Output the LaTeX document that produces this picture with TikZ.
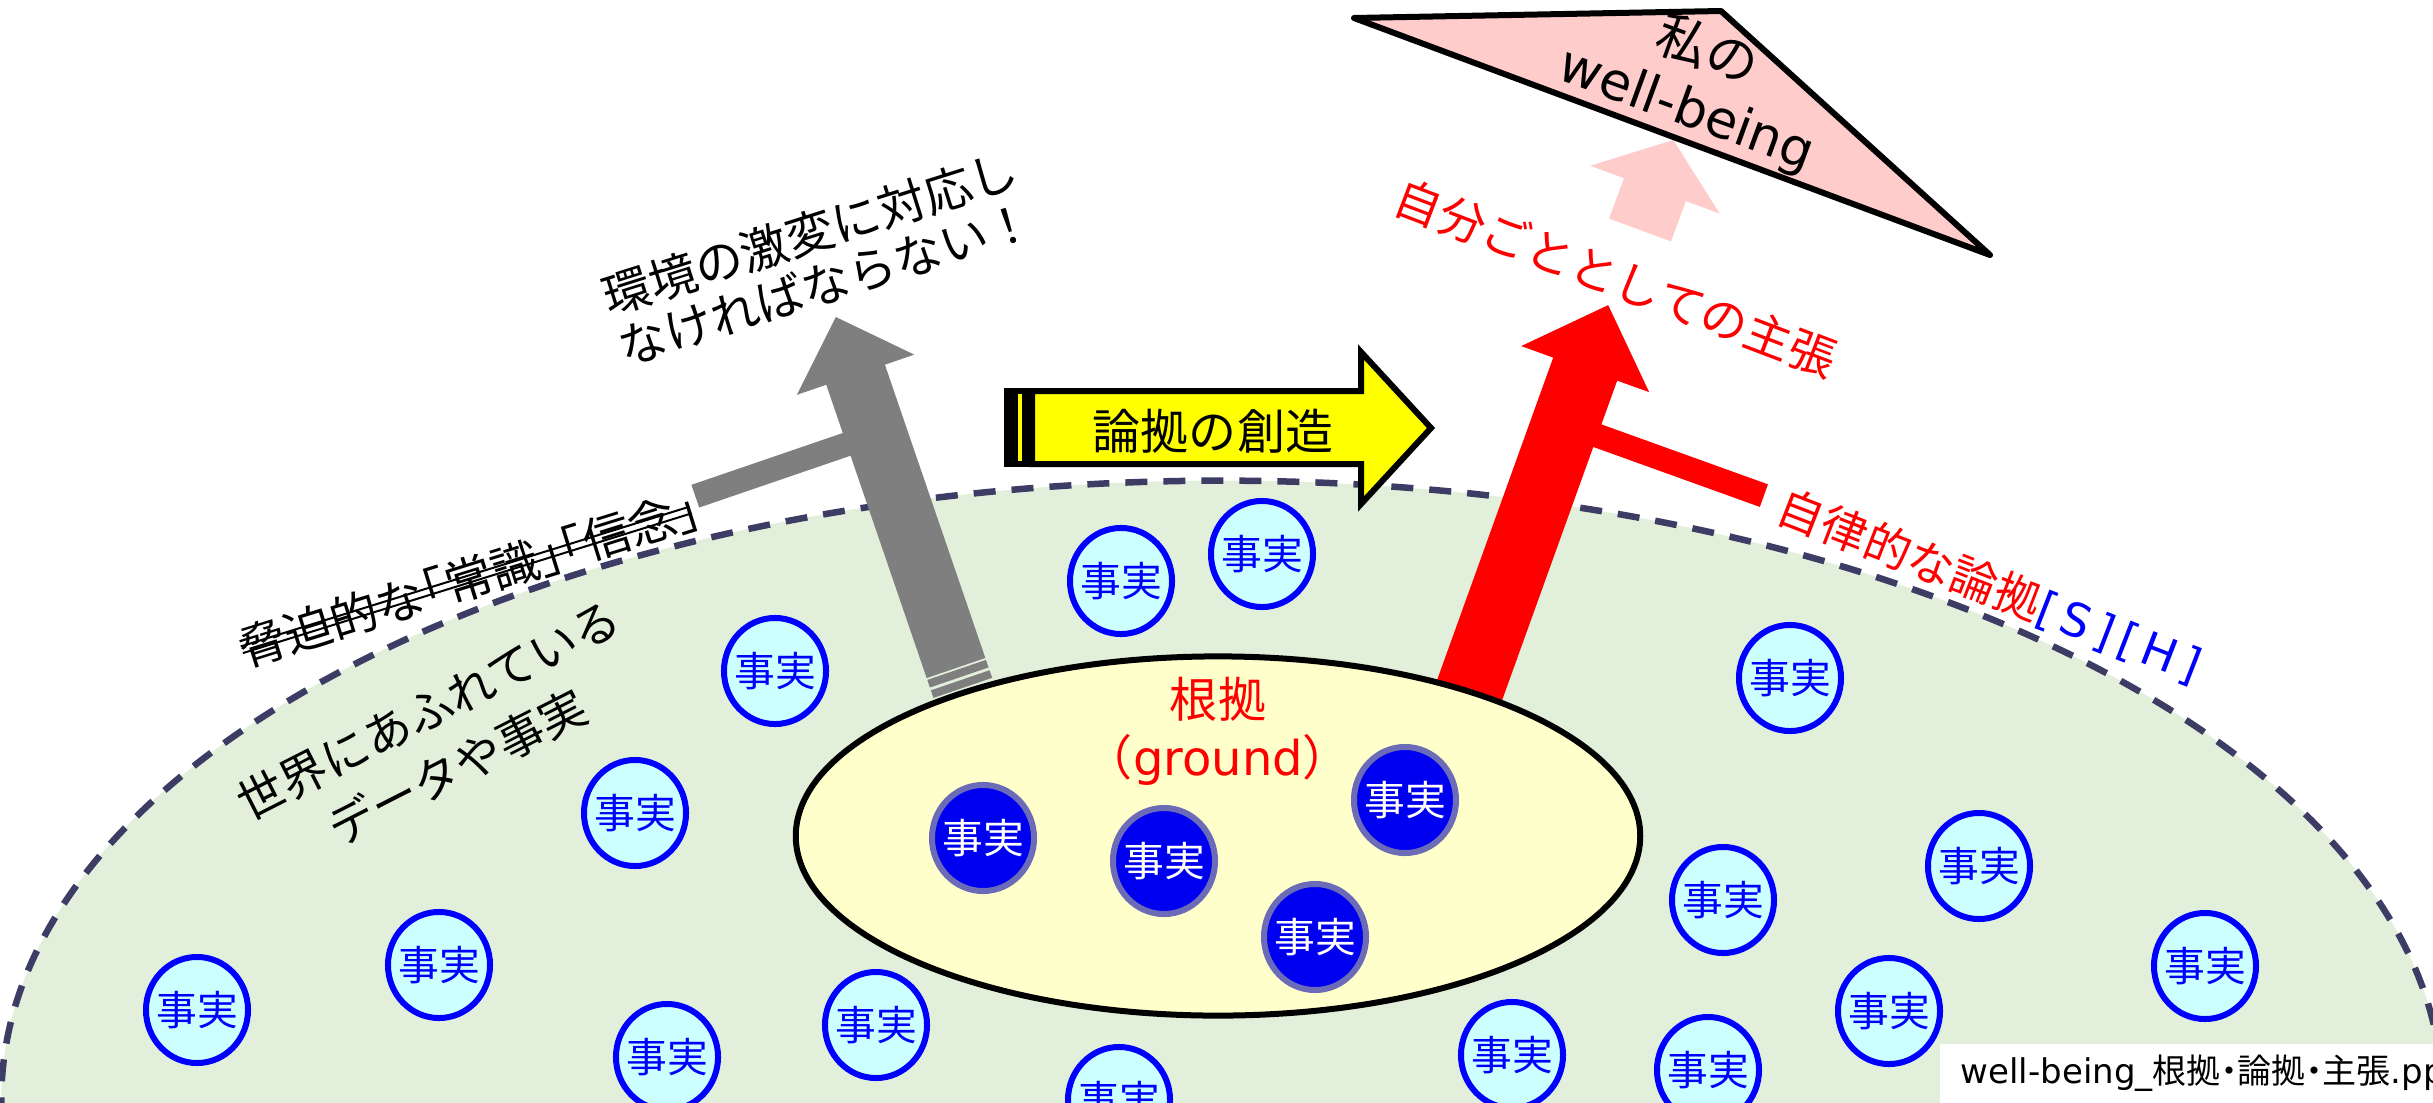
\documentclass[tikz,border=0pt]{standalone}
\usepackage{fontspec}
\setmainfont{Noto Sans CJK JP}
\newfontfamily\lat{DejaVu Sans}
\newfontfamily\jph{Noto Sans CJK JP}[RawFeature=+halt]
\usetikzlibrary{shapes.geometric}
\definecolor{bgGreen}{HTML}{E2EFDA}
\definecolor{dashC}{HTML}{3C3C64}
\definecolor{factFill}{HTML}{CCFFFF}
\definecolor{factBlue}{HTML}{0000FF}
\definecolor{darkFill}{HTML}{0000F0}
\definecolor{darkRim}{HTML}{6B6BB8}
\definecolor{groundFill}{HTML}{FFFFCC}
\definecolor{pinkC}{HTML}{FFCCCC}
\definecolor{grayA}{HTML}{7F7F7F}
\definecolor{redA}{HTML}{FF0000}
\definecolor{yellowA}{HTML}{FFFF00}
\begin{document}
\begin{tikzpicture}[x=0.01cm,y=-0.01cm,
  fact/.style={ellipse, draw=factBlue, fill=factFill, line width=0.06cm, text=factBlue,
    inner xsep=-0.05cm, inner ysep=0pt, minimum width=1.02cm, minimum height=1.06cm,
    font=\fontsize{11.6pt}{13pt}\selectfont},
  darkfact/.style={fact, draw=darkRim, fill=darkFill, text=white},
  txt/.style={inner sep=0pt},
  outline/.style={line width=0.06cm, draw=black}]
\useasboundingbox (0,0) rectangle (2433,1103);
\clip (0,0) rectangle (2433,1103);
\fill[white] (0,0) rectangle (2433,1103);

% world of data (big dashed ellipse)
\path[fill=bgGreen, draw=dashC, line width=0.065cm, dash pattern=on 0.22cm off 0.16cm]
  (1222,1100) ellipse [x radius=12.2cm, y radius=6.19cm];

% light facts
\node[fact] (f1) at (197,1010) {事実};
\node[fact] (f2) at (439,965) {事実};
\node[fact] (f3) at (667,1057) {事実};
\node[fact] (f4) at (635,813) {事実};
\node[fact] (f5) at (775,671) {事実};
\node[fact] (f6) at (876,1025) {事実};
\node[fact] (f7) at (1119,1100) {事実};
\node[fact] (f8) at (1121,581) {事実};
\node[fact] (f9) at (1262,554) {事実};
\node[fact] (f10) at (1512,1055) {事実};
\node[fact] (f11) at (1708,1070) {事実};
\node[fact] (f12) at (1723,900) {事実};
\node[fact] (f13) at (1790,678) {事実};
\node[fact] (f14) at (1979,866) {事実};
\node[fact] (f15) at (1889,1011) {事実};
\node[fact] (f16) at (2205,966) {事実};
\node[fact] (f17) at (2054,1118) {事実};

% gray arrow with branch and tail stripes
\begin{scope}[shift={(956,668)}, rotate=18.9]
  \fill[grayA] (-31,0) -- (-31,-310) -- (-62,-310) -- (0,-371) -- (62,-310) -- (31,-310) -- (31,0) -- cycle;
  \fill[grayA] (-191,-259) rectangle (-20,-235);
  \fill[grayA] (-31,2) rectangle (31,10);
  \fill[grayA] (-31,13) rectangle (31,21);
\end{scope}

% red arrow with branch
\begin{scope}[shift={(1470,689)}, rotate=-19.8]
  \fill[redA] (-34,30) -- (-34,-340) -- (-68,-340) -- (0,-408) -- (68,-340) -- (34,-340) -- (34,30) -- cycle;
  \fill[redA] (20,-293.5) rectangle (211,-269.5);
\end{scope}

% pink arrow
\begin{scope}[shift={(1640,230)}, rotate=-20.3]
  \fill[pinkC] (-33,0) -- (-33,-43) -- (-69,-43) -- (0,-96) -- (69,-43) -- (33,-43) -- (33,0) -- cycle;
\end{scope}

% yellow striped arrow
\fill[black] (1004,388) rectangle (1032,467);
\fill[yellowA] (1018,394) rectangle (1022,461);
\draw[outline, fill=yellowA] (1032,391) -- (1361,391) -- (1361,352) -- (1431,428) -- (1361,504) -- (1361,464) -- (1032,464) -- cycle;

% triangle (well-being)
\draw[outline, fill=pinkC, line join=round] (1354,18) -- (1721,11) -- (1990,255) -- cycle;

% ground ellipse
\node[ellipse, outline, fill=groundFill, inner sep=0pt, minimum width=8.44cm, minimum height=3.59cm] (groundE) at (1218,836) {};

% dark facts
\node[darkfact] (d1) at (983,838) {事実};
\node[darkfact] (d2) at (1164,861) {事実};
\node[darkfact] (d3) at (1405,800) {事実};
\node[darkfact] (d4) at (1315,937) {事実};

% texts
\node[txt, text=redA, align=center, font=\fontsize{13.66pt}{16.5pt}\selectfont] (gtext) at (1218,731) {根拠\\（{\lat ground}）};
\node[txt, font=\fontsize{13.66pt}{15pt}\selectfont] (create) at (1213,431) {論拠の創造};
\node[txt, align=center, rotate=17.5, font=\fontsize{13.66pt}{15.08pt}\selectfont] (env) at (818,258) {環境の激変に対応し\\なければならない！};
\begin{scope}[shift={(469,579)}, rotate=17.3]
  \node[txt, transform shape, font=\jph\fontsize{13.66pt}{15pt}\selectfont] (belief) at (0,0) {脅迫的な「常識」「信念」};
  \draw[line width=0.02cm] (-238,-3.5) -- (232,-3.5) (-238,3.5) -- (232,3.5);
\end{scope}
\node[txt, align=center, rotate=27, font=\fontsize{13.37pt}{18.2pt}\selectfont] (world) at (443,739) {世界にあふれている\\データや事実};
\node[txt, rotate=-20, font=\fontsize{14.8pt}{17pt}\selectfont] (mineA) at (1708,49) {私の};
\node[txt, rotate=-20, font=\lat\fontsize{14.8pt}{17pt}\selectfont] (mineB) at (1686,111) {well-being};
\node[txt, text=redA, rotate=-20.8, font=\fontsize{13.37pt}{15pt}\selectfont] (claim) at (1616,278) {自分ごととしての主張};
\node[txt, anchor=west, text=redA, rotate=-21.2, font=\fontsize{13.2pt}{15pt}\selectfont] (auto) at (1779,505)
  {自律的な論拠\textcolor{factBlue}{\lat [\hspace{0.15em}S\hspace{0.15em}]\hspace{0.15em}[\hspace{0.15em}H\hspace{0.15em}]}};

% file label
\fill[white] (1940,1044) rectangle (2433,1103);
\node[txt, anchor=west, font=\fontsize{9.67pt}{11pt}\selectfont] (file) at (1960,1073)
  {{\lat well-being\_}{\jph 根拠・論拠・主張}{\lat .pp}};
\end{tikzpicture}
\end{document}
